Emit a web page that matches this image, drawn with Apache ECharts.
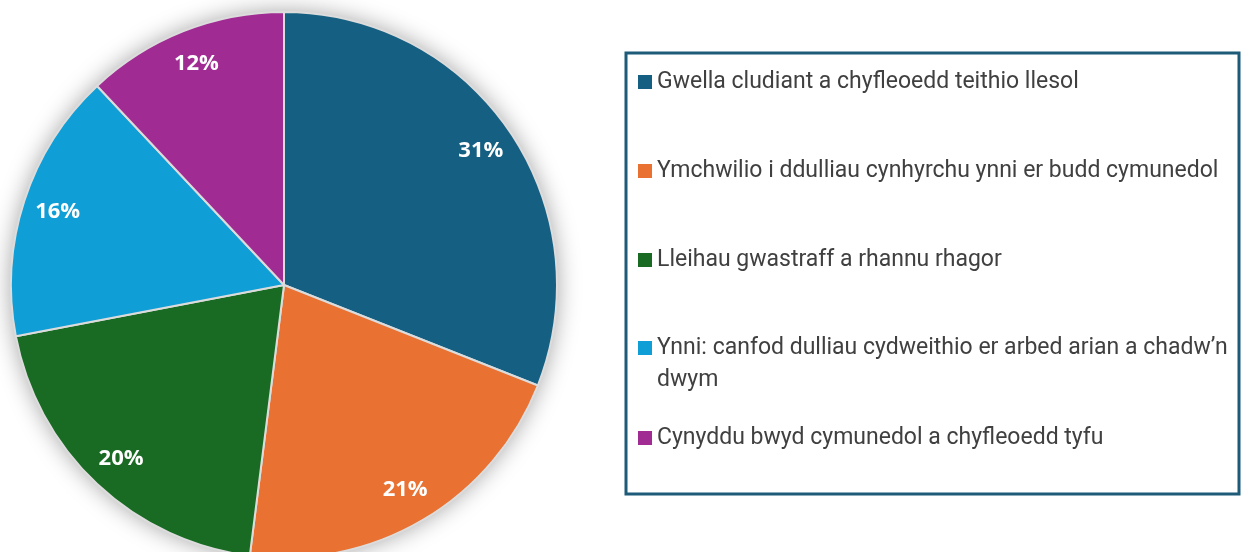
<!DOCTYPE html>
<html>
<head>
<meta charset="utf-8">
<script src="https://cdn.jsdelivr.net/npm/echarts@6/dist/echarts.min.js"></script>
<style>
  html, body { margin: 0; padding: 0; background: #fff; }
  #chart { width: 1242px; height: 552px; }
</style>
</head>
<body>
<div id="chart"></div>
<script>
// chart values
const categories = [
  'Gwella cludiant a chyfleoedd teithio llesol',
  'Ymchwilio i ddulliau cynhyrchu ynni er budd cymunedol',
  'Lleihau gwastraff a rhannu rhagor',
  'Ynni: canfod dulliau cydweithio er arbed arian a chadw\u2019n dwym',
  'Cynyddu bwyd cymunedol a chyfleoedd tyfu'
];
const values = [31, 21, 20, 16, 12];
const colors = ['#156082', '#E97132', '#196B24', '#0F9ED5', '#A02B93'];

const pieData = categories.map((name, i) => ({
  name: name,
  value: values[i],
  itemStyle: { color: colors[i] }
}));

const legendText = {
  fontFamily: 'Roboto',
  fontSize: 23,
  lineHeight: 32,
  color: '#404040'
};

function makeLegend(names, top, extra) {
  return Object.assign({
    data: names,
    orient: 'vertical',
    left: 638,
    top: top,
    padding: 0,
    itemWidth: 14,
    itemHeight: 14,
    itemGap: 57,
    icon: 'rect',
    selectedMode: false,
    itemStyle: { borderWidth: 0 },
    textStyle: legendText
  }, extra || {});
}

const chart = echarts.init(document.getElementById('chart'));
chart.setOption({
  animation: false,
  graphic: [
    {
      type: 'circle',
      z: -10,
      shape: { cx: 284, cy: 285, r: 272 },
      style: { fill: '#fff', shadowBlur: 24, shadowColor: 'rgba(0,0,0,0.4)' }
    },
    {
      type: 'rect',
      shape: { x: 626, y: 53, width: 613, height: 441 },
      style: { fill: 'none', stroke: '#1d5b78', lineWidth: 3 }
    }
  ],
  legend: [
    makeLegend(categories.slice(0, 3), 66),
    makeLegend([categories[3]], 300, {
      formatter: () => '\u00a0\nYnni: canfod dulliau cydweithio er arbed arian a chadw\u2019n\ndwym'
    }),
    makeLegend([categories[4]], 422)
  ],
  series: [
    {
      name: 'pie',
      type: 'pie',
      center: [284, 285],
      radius: 273,
      startAngle: 90,
      clockwise: true,
      silent: true,
      label: { show: false },
      labelLine: { show: false },
      itemStyle: { borderColor: '#dcdcdc', borderWidth: 2 },
      emphasis: { disabled: true },
      data: pieData
    },
    {
      name: 'labels',
      type: 'pie',
      center: [284, 285],
      radius: [197, 273],
      startAngle: 90,
      clockwise: true,
      silent: true,
      itemStyle: { color: 'transparent' },
      label: {
        show: true,
        position: 'inside',
        formatter: '{c}%',
        color: '#fff',
        fontFamily: 'Open Sans',
        fontWeight: 'bold',
        fontSize: 22
      },
      labelLine: { show: false },
      emphasis: { disabled: true },
      data: categories.map((name, i) => ({ name: name, value: values[i] }))
    }
  ]
});
</script>
</body>
</html>
